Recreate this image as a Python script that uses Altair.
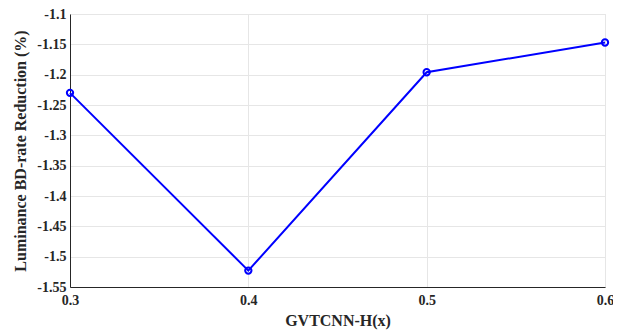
import altair as alt
import pandas as pd

x_vals = [0.3, 0.4, 0.5, 0.6]
y_vals = [-1.230, -1.523, -1.196, -1.147]
y_ticks = [-1.55, -1.5, -1.45, -1.4, -1.35, -1.3, -1.25, -1.2, -1.15, -1.1]
x_ticks = [0.3, 0.4, 0.5, 0.6]

df = pd.DataFrame({"x": x_vals, "y": y_vals})

font = "Liberation Serif"

x_enc = alt.X("x:Q", scale=alt.Scale(domain=[0.3, 0.6], nice=False, zero=False),
              axis=alt.Axis(title="GVTCNN-H(x)", values=x_ticks, format=".1~f",
                            tickCount=20,
                            labelFont=font, labelFontSize=14, labelFontWeight="bold",
                            titleFont=font, titleFontSize=16, titleFontWeight="bold",
                            labelColor="#262626", titleColor="#262626",
                            domainColor="#262626", tickSize=0, labelPadding=6,
                            labelFlush=False, labelOverlap=False,
                            titlePadding=5, gridColor="#e6e6e6"))
y_enc = alt.Y("y:Q", scale=alt.Scale(domain=[-1.55, -1.1], nice=False, zero=False),
              axis=alt.Axis(title="Luminance BD-rate Reduction (%)", values=y_ticks,
                            tickCount=20,
                            labelExpr="datum.value < 0 ? '-' + format(-datum.value, '~g') : format(datum.value, '~g')",
                            labelFont=font, labelFontSize=14, labelFontWeight="bold",
                            titleFont=font, titleFontSize=16, titleFontWeight="bold",
                            labelColor="#262626", titleColor="#262626",
                            domainColor="#262626", tickSize=0, labelPadding=4,
                            labelFlush=False, labelOverlap=False,
                            titlePadding=8, gridColor="#e6e6e6"))

line = alt.Chart(df).mark_line(color="#0000ff", strokeWidth=2).encode(x=x_enc, y=y_enc)
pts = alt.Chart(df).mark_point(color="#0000ff", strokeWidth=2, size=40, filled=False,
                               opacity=1).encode(x="x:Q", y="y:Q")

chart = (line + pts).properties(
    width=535, height=273,
    autosize=alt.AutoSizeParams(type="none"),
    padding={"left": 62, "top": 6, "right": 8, "bottom": 44},
).configure_view(stroke="#262626", strokeWidth=1).configure(background="white")

chart.save("out.html", embed_options={"renderer": "svg", "actions": False})
